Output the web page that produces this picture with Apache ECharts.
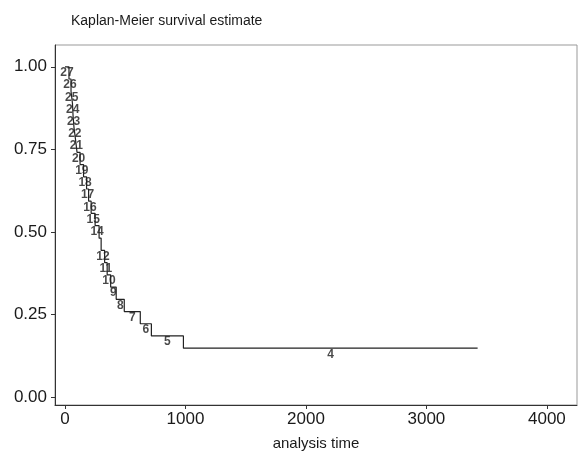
<!DOCTYPE html>
<html>
<head>
    <meta charset="utf-8">
    <title>Kaplan-Meier survival estimate</title>
    <script src="https://cdn.jsdelivr.net/npm/echarts@6/dist/echarts.min.js"></script>
    <style>
        html, body { margin: 0; padding: 0; background: #fff; }
        #main { width: 579px; height: 456px; }
    </style>
</head>
<body>
    <div id="main"></div>
    <script>
        // step times (analysis time where survival drops) and values
        var stepTimes = [0, 33, 50, 62, 67, 75, 88, 100, 125, 154, 179, 196, 217, 250, 283, 300, 329, 350, 379, 425, 492, 625, 717, 983];
        var survival = [1.0, 0.963, 0.926, 0.889, 0.852, 0.815, 0.778, 0.741, 0.704, 0.667, 0.630, 0.593, 0.556, 0.519, 0.481, 0.444, 0.407, 0.370, 0.333, 0.296, 0.259, 0.222, 0.185, 0.148];
        var atRisk = ['27', '26', '25', '24', '23', '22', '21', '20', '19', '18', '17', '16', '15', '14', '', '12', '11', '10', '9', '8', '7', '6', '5', '4'];
        var lastTime = 3425;
        var xTicks = [0, 1000, 2000, 3000, 4000];
        var yTicks = [0, 0.25, 0.5, 0.75, 1];

        var curve = stepTimes.map(function (t, i) { return [t, survival[i]]; });
        curve.push([lastTime, survival[survival.length - 1]]);

        var labelPts = stepTimes.map(function (t, i) {
            var next = i + 1 < stepTimes.length ? stepTimes[i + 1] : lastTime;
            return { value: [(t + next) / 2, survival[i]], name: atRisk[i] };
        });

        var myChart = echarts.init(document.getElementById('main'));

        var option = {
            backgroundColor: '#fff',
            animation: false,
            title: {
                text: 'Kaplan-Meier survival estimate',
                left: 66,
                top: 9,
                textStyle: { fontFamily: 'Liberation Sans', fontSize: 14, fontWeight: 'normal', color: '#1a1a1a' }
            },
            grid: {
                left: 55, right: 2, top: 45, bottom: 46,
                show: true, borderColor: '#999', borderWidth: 1, backgroundColor: 'transparent'
            },
            xAxis: {
                type: 'value',
                min: -83,
                max: 4250,
                name: 'analysis time',
                nameLocation: 'middle',
                nameGap: 31,
                nameTextStyle: { fontFamily: 'Liberation Sans', fontSize: 15, color: '#1a1a1a' },
                splitLine: { show: false },
                axisLine: { show: true, onZero: false, lineStyle: { color: '#333' } },
                axisTick: { show: true, length: 4, customValues: xTicks, lineStyle: { color: '#333' } },
                axisLabel: {
                    customValues: xTicks,
                    margin: 6,
                    fontFamily: 'Liberation Sans', fontSize: 17, color: '#1a1a1a',
                    formatter: function (v) { return String(v); }
                }
            },
            yAxis: {
                type: 'value',
                min: -0.024,
                max: 1.066,
                splitLine: { show: false },
                axisLine: { show: true, onZero: false, lineStyle: { color: '#333' } },
                axisTick: { show: true, length: 4, customValues: yTicks, lineStyle: { color: '#333' } },
                axisLabel: {
                    customValues: yTicks,
                    margin: 8,
                    fontFamily: 'Liberation Sans', fontSize: 17, color: '#1a1a1a',
                    formatter: function (v) { return v.toFixed(2); }
                }
            },
            series: [
                {
                    type: 'line',
                    step: 'end',
                    data: curve,
                    symbol: 'none',
                    lineStyle: { color: '#222', width: 1.2 }
                },
                {
                    type: 'scatter',
                    data: labelPts,
                    symbolSize: 0,
                    label: {
                        show: true,
                        position: 'bottom',
                        distance: 0,
                        formatter: function (p) { return p.name; },
                        fontFamily: 'Liberation Sans', fontSize: 12, fontWeight: 'bold', color: '#1a1a1a'
                    }
                }
            ]
        };

        myChart.setOption(option);

        window.onresize = function () {
            myChart.resize();
        };
    </script>
</body>
</html>
